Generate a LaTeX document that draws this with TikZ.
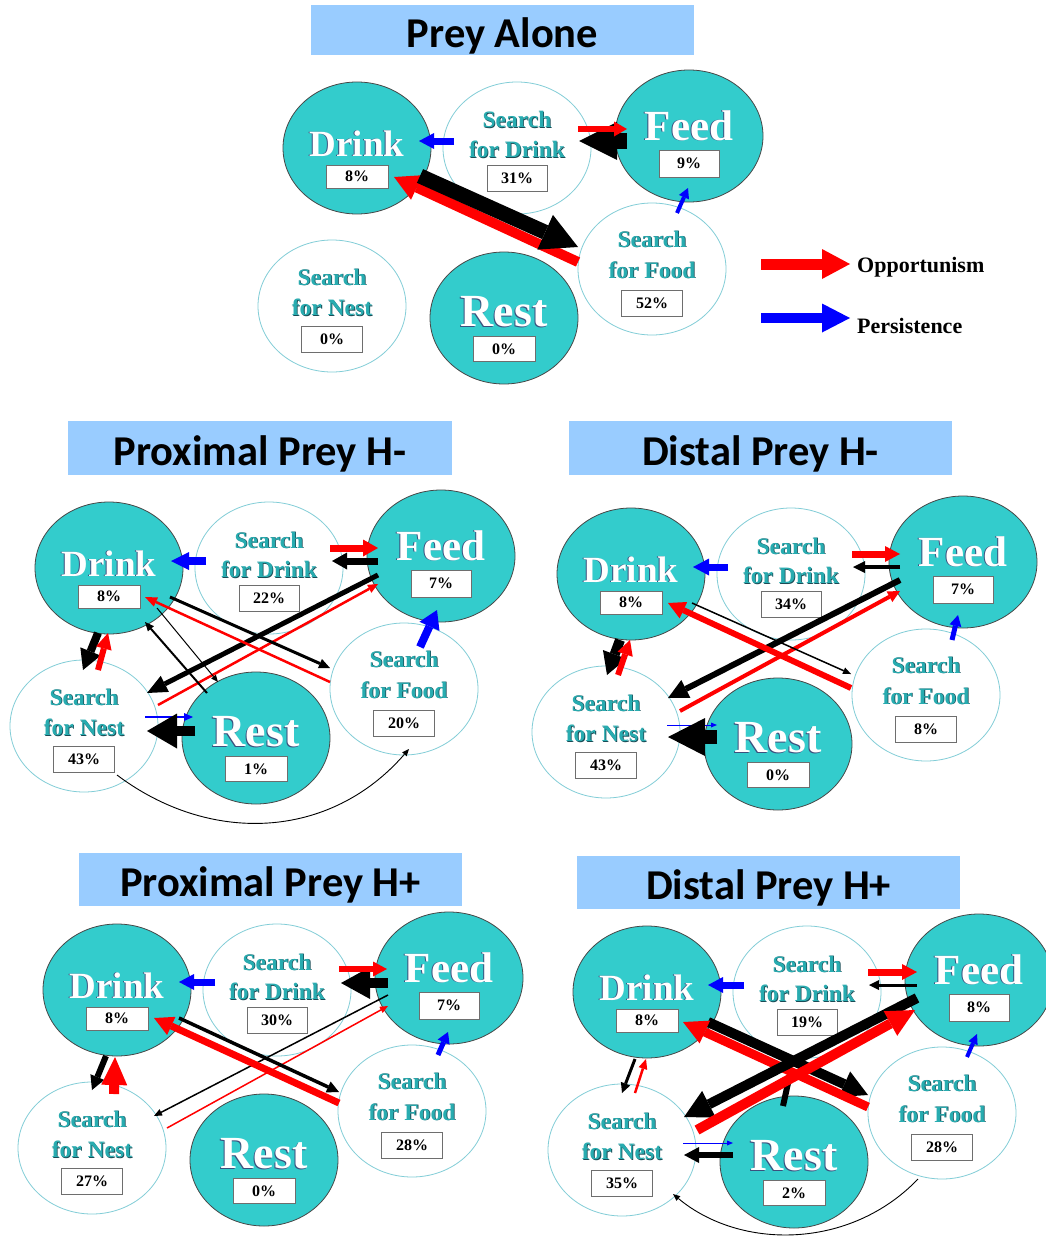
\documentclass[tikz,border=0pt]{standalone}
\usepackage{fontspec}
\setmainfont{Liberation Serif}
\newfontfamily\titlefamily{Carlito}
\usetikzlibrary{arrows.meta,shapes.geometric}

\definecolor{tealfill}{RGB}{51,204,204}
\definecolor{tealedge}{RGB}{70,70,70}
\definecolor{paleedge}{RGB}{130,205,215}
\definecolor{titleblue}{RGB}{153,204,255}
\definecolor{searchtxt}{RGB}{40,172,176}
\definecolor{searchshade}{RGB}{25,75,85}
\definecolor{wordshade}{RGB}{60,80,125}
\definecolor{boxedge}{RGB}{110,110,110}

% bold serif text at a given size
\newcommand\sizedbold[1]{\bfseries\fontsize{#1}{#1}\selectfont}
% white activity names with a thin dark shadow
\newcommand\actword[1]{\makebox[0pt][l]{\kern-0.9pt\raisebox{-0.7pt}{\textcolor{wordshade}{#1}}}\textcolor{white}{#1}}
% teal search-state names with a dark shadow
\newcommand\srchword[1]{\makebox[0pt][l]{\kern0.8pt\raisebox{-0.8pt}{\textcolor{searchshade}{#1}}}\textcolor{searchtxt}{#1}}

\tikzset{
  act/.style={ellipse, minimum width=148pt, minimum height=132pt, inner sep=0pt,
    fill=tealfill, draw=tealedge, line width=0.8pt},
  srch/.style={ellipse, minimum width=148pt, minimum height=132pt, inner sep=0pt,
    fill=white, draw=paleedge, line width=0.8pt},
  wordlbl/.style={inner sep=0pt, anchor=base},
  pctbox/.style={draw=boxedge, fill=white, line width=0.9pt, inner sep=0pt,
    minimum width=62pt, minimum height=25pt, font=\sizedbold{16}},
  ar/.style n args={3}{line width=#1pt,
    -{Triangle[length=#2pt, width=#3pt, line width=0pt]}},
  titlebox/.style={fill=titleblue, inner sep=0pt, text height=34pt, text depth=0pt,
    font=\titlefamily\bfseries\fontsize{42.5}{46}\selectfont},
  legendtxt/.style={anchor=base west, inner sep=0pt, font=\sizedbold{22}},
}

% connector between two nodes, each end given as an offset from the node centre
\newcommand\conn[5]{\draw[#1] ([shift={(#3)}]#2.center) -- ([shift={(#5)}]#4.center);}

% one transition diagram: prefix, Drink centre, shares of
% Drink, Search for Drink, Feed, Search for Food, Search for Nest, Rest
\newcommand\drawpanel[9]{%
  \begin{scope}[shift={(#2,#3)}]
    \node[act]  (#1d)  at (0,0)     {};
    \node[srch] (#1sd) at (160,0)   {};
    \node[act]  (#1f)  at (332,-12) {};
    \node[srch] (#1sf) at (295,121) {};
    \node[srch] (#1sn) at (-25,158) {};
    \node[act]  (#1r)  at (147,170) {};
  \end{scope}
  \node[wordlbl, font=\sizedbold{37}] (#1dw) at ([shift={(0,8)}]#1d.center) {\actword{Drink}};
  \node[pctbox, minimum height=23pt] (#1dp) at ([shift={(0,28.5)}]#1d.center) {#4};
  \node[wordlbl, font=\sizedbold{43}] (#1fw) at ([shift={(0,4)}]#1f.center) {\actword{Feed}};
  \node[pctbox, minimum width=60pt, minimum height=27pt] (#1fp) at ([shift={(0,27.5)}]#1f.center) {#6};
  \node[wordlbl, font=\sizedbold{46}] (#1rw) at ([shift={(0,8.5)}]#1r.center) {\actword{Rest}};
  \node[pctbox] (#1rp) at ([shift={(0,31)}]#1r.center) {#9};
  \node[wordlbl, font=\sizedbold{23.5}] (#1sda) at ([shift={(0,-20)}]#1sd.center) {\srchword{Search}};
  \node[wordlbl, font=\sizedbold{23.5}] (#1sdb) at ([shift={(0,9.5)}]#1sd.center) {\srchword{for Drink}};
  \node[pctbox, minimum width=60pt, minimum height=26pt] (#1sdp) at ([shift={(0,30)}]#1sd.center) {#5};
  \node[wordlbl, font=\sizedbold{23.5}] (#1sfa) at ([shift={(0,-22)}]#1sf.center) {\srchword{Search}};
  \node[wordlbl, font=\sizedbold{23.5}] (#1sfb) at ([shift={(0,9)}]#1sf.center) {\srchword{for Food}};
  \node[pctbox, minimum width=61pt, minimum height=26pt] (#1sfp) at ([shift={(0,34)}]#1sf.center) {#7};
  \node[wordlbl, font=\sizedbold{23.5}] (#1sna) at ([shift={(0,-21)}]#1sn.center) {\srchword{Search}};
  \node[wordlbl, font=\sizedbold{23.5}] (#1snb) at ([shift={(0,9.5)}]#1sn.center) {\srchword{for Nest}};
  \node[pctbox, minimum width=61pt, minimum height=26pt] (#1snp) at ([shift={(0,33)}]#1sn.center) {#8};
}

\begin{document}
\begin{tikzpicture}[x=1pt,y=-1pt]
\useasboundingbox (0,0) rectangle (1046,1236);
\clip (0,0) rectangle (1046,1236);
\fill[white] (0,0) rectangle (1046,1236);

% ---------- titles ----------
\node[titlebox, minimum width=383pt, minimum height=50pt] (tAlone) at (502.5,30.5) {Prey Alone};
\node[titlebox, minimum width=384pt, minimum height=54pt] (tProxMinus) at (260,448) {Proximal Prey H-};
\node[titlebox, minimum width=383pt, minimum height=54pt] (tDistMinus) at (760.5,448) {Distal Prey H-};
\node[titlebox, minimum width=383pt, minimum height=53pt] (tProxPlus) at (270.5,879.5) {Proximal Prey H+};
\node[titlebox, minimum width=383pt, minimum height=53pt] (tDistPlus) at (768.5,882.5) {Distal Prey H+};

% ---------- Prey alone ----------
\drawpanel{A}{357}{148}{8\%}{31\%}{9\%}{52\%}{0\%}{0\%}
\conn{ar={7}{15}{16},blue}{Asd}{-63,-7}{Ad}{62,-7}
\conn{ar={15}{38}{38}}{Af}{-62,5}{Asd}{62,-7}
\conn{ar={6}{13}{15},red}{Asd}{61,-19}{Af}{-62,-7}
\conn{ar={10}{25}{27},red}{Asf}{-74,-7}{Ad}{37,29}
\conn{ar={15}{36}{38}}{Ad}{63,28}{Asf}{-74,-22}
\conn{ar={4}{10}{11},blue}{Asf}{25,-56}{Af}{-1,52}

% legend
\coordinate (oppA) at (761,264);
\coordinate (oppB) at (850,264);
\coordinate (perA) at (761,318);
\coordinate (perB) at (850,318);
\draw[ar={11}{28}{30},red] (oppA) -- (oppB);
\draw[ar={10}{28}{29},blue] (perA) -- (perB);
\node[legendtxt] (oppT) at (857,272) {Opportunism};
\node[legendtxt] (perT) at (857,333) {Persistence};

% ---------- Proximal prey H- ----------
\drawpanel{B}{109}{568}{8\%}{22\%}{7\%}{20\%}{43\%}{1\%}
\conn{ar={8}{18}{18},blue}{Bsd}{-63,-7}{Bd}{62,-7}
\conn{ar={7}{15}{17},red}{Bsd}{61,-20}{Bf}{-63,-8}
\conn{ar={7}{15}{17}}{Bf}{-63,5}{Bsd}{63,-7}
\conn{ar={5}{20}{18}}{Bf}{-63,19}{Bsn}{63,-33}
\conn{ar={2.5}{10}{9},red}{Bsn}{74,-21}{Bf}{-63,28}
\conn{ar={3}{11}{10}}{Bd}{61,29}{Bsf}{-74,-21}
\conn{ar={2.5}{12}{10},red}{Bsf}{-74,-7}{Bd}{36,29}
\conn{ar={1}{7}{6}}{Bd}{48,40}{Br}{-38,-56}
\conn{ar={2}{9}{8}}{Br}{-49,-45}{Bd}{36,54}
\conn{ar={8}{20}{22}}{Bd}{-11,65}{Bsn}{-1,-56}
\conn{ar={6}{16}{16},red}{Bsn}{14,-56}{Bd}{-1,65}
\conn{ar={2}{9}{8},blue}{Bsn}{61,-9}{Br}{-63,-21}
\conn{ar={10}{30}{35}}{Br}{-61,-7}{Bsn}{63,5}
\conn{ar={8}{18}{22},blue}{Bsf}{16,-42}{Bf}{-4,54}
\draw[ar={0.9}{7}{6}] ([shift={(33,49)}]Bsn.center)
  .. controls ([shift={(126,119)}]Bsn.center) and ([shift={(-74,151)}]Bsf.center)
  .. ([shift={(5,60)}]Bsf.center);

% ---------- Distal prey H- ----------
\drawpanel{C}{631}{574}{8\%}{34\%}{7\%}{8\%}{43\%}{0\%}
\conn{ar={7}{16}{17},blue}{Csd}{-63,-7}{Cd}{62,-7}
\conn{ar={4}{12}{12}}{Cf}{-63,5}{Csd}{62,-7}
\conn{ar={7}{15}{16},red}{Csd}{61,-20}{Cf}{-63,-8}
\conn{ar={6}{20}{20}}{Cf}{-63,18}{Csn}{62,-34}
\conn{ar={4}{12}{12},red}{Csn}{74,-21}{Cf}{-63,29}
\conn{ar={1.5}{8}{7}}{Cd}{61,29}{Csf}{-75,-21}
\conn{ar={6}{17}{18},red}{Csf}{-75,-7}{Cd}{37,29}
\conn{ar={10}{22}{25}}{Cd}{-11,66}{Csn}{1,-57}
\conn{ar={6}{15}{16},red}{Csn}{12,-57}{Cd}{-1,66}
\conn{ar={1}{6}{5},blue}{Csn}{61,-7}{Cr}{-61,-19}
\conn{ar={14}{37}{38}}{Cr}{-61,-7}{Csn}{62,5}
\conn{ar={5}{11}{12},blue}{Csf}{26,-55}{Cf}{-5,53}

% ---------- Proximal prey H+ ----------
\drawpanel{D}{117}{990}{8\%}{30\%}{7\%}{28\%}{27\%}{0\%}
\conn{ar={7}{15}{16},blue}{Dsd}{-62,-8}{Dd}{62,-8}
\conn{ar={10}{29}{32}}{Df}{-61,5}{Dsd}{64,-7}
\conn{ar={6}{14}{15},red}{Dsd}{62,-21}{Df}{-62,-9}
\conn{ar={1.5}{8}{7}}{Df}{-61,17}{Dsn}{62,-32}
\conn{ar={1.5}{8}{7},red}{Dsn}{75,-20}{Df}{-61,28}
\conn{ar={3.5}{12}{12}}{Dd}{62,28}{Dsf}{-73,-19}
\conn{ar={7}{19}{20},red}{Dsf}{-73,-8}{Dd}{37,28}
\conn{ar={6}{14}{15}}{Dd}{-11,66}{Dsn}{0,-58}
\conn{ar={10}{28}{26},red}{Dsn}{22,-54}{Dd}{-2,67}
\conn{ar={5}{11}{13},blue}{Dsf}{26,-56}{Df}{-1,54}

% ---------- Distal prey H+ ----------
\drawpanel{E}{647}{992}{8\%}{19\%}{8\%}{28\%}{35\%}{2\%}
\coordinate (Estub) at ([shift={(-4,-88)}]Er.center);
\draw[line width=6pt] ([shift={(-11,-56)}]Er.center) -- (Estub);
\conn{ar={7}{15}{16},blue}{Esd}{-63,-7}{Ed}{61,-7}
\conn{ar={7}{15}{16},red}{Esd}{61,-20}{Ef}{-62,-8}
\conn{ar={3}{10}{10}}{Ef}{-62,5}{Esd}{62,-7}
\conn{ar={10}{26}{28}}{Ed}{61,30}{Esf}{-74,-18}
\conn{ar={9}{24}{25},red}{Esf}{-74,-6}{Ed}{36,30}
\conn{ar={10}{28}{30}}{Ef}{-62,18}{Esn}{62,-33}
\conn{ar={10}{28}{28},red}{Esn}{75,-20}{Ef}{-64,30}
\conn{ar={3}{10}{10}}{Ed}{-12,67}{Esn}{0,-57}
\conn{ar={2.5}{10}{9},red}{Esn}{13,-57}{Ed}{-1,67}
\conn{ar={1}{6}{5},blue}{Esn}{61,-7}{Er}{-61,-19}
\conn{ar={6}{15}{16}}{Er}{-61,-7}{Esn}{62,5}
\conn{ar={4}{10}{10},blue}{Esf}{25,-56}{Ef}{-2,54}
\draw[ar={0.9}{7}{6}] ([shift={(-24,66)}]Esf.center)
  .. controls ([shift={(-92,137)}]Esf.center) and ([shift={(118,100)}]Esn.center)
  .. ([shift={(51,44)}]Esn.center);
\end{tikzpicture}
\end{document}
